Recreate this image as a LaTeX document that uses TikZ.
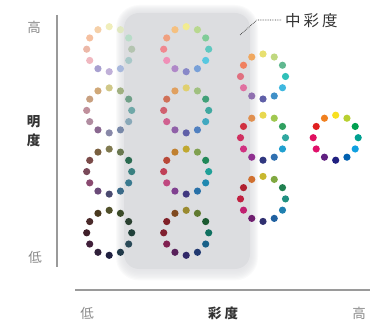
\documentclass[tikz,border=0pt]{standalone}
\usepackage{fontspec}
\newfontfamily\jp{Noto Sans CJK JP}
\usetikzlibrary{calc}
% colours: per wheel, starting at top and going clockwise
\newcommand\defwheel[2]{%
  \foreach \c [count=\n from 0] in {#2}{\expandafter\xdef\csname wc#1\n\endcsname{\c}}}
\newcommand\ringat[3]{% x, y, wheel id
  \foreach \i in {0,...,11}{%
    \pgfmathsetmacro\ang{90-30*\i}%
    \definecolor{dotc}{HTML}{\csname wc#3\i\endcsname}%
    \fill[dotc] ({#1+22.5*cos(\ang)},{#2-22.5*sin(\ang)}) circle[radius=3.6];
  }}
\defwheel{aa}{F0EEBB,E0E8C0,B8DCC8,B4C4B0,A8C8C8,A8B8DC,C0B0D8,A8A0D0,F0B8C0,ECB8A8,F5C0A0,F5D0A8}
\defwheel{ab}{D0C888,A0B080,70A088,70A8A8,88A8B8,7888A8,8888A8,8A6890,B08CA0,C0909C,C8A080,D0A878}
\defwheel{ac}{807A50,6A7850,2A6A50,3A8080,3A7A90,3A6A88,4A4A70,6A4A78,8A4A70,7A4A5A,7A4A48,7A6040}
\defwheel{ad}{50502A,3A4A28,2A4030,20403A,2A4A58,203848,202040,30203A,40203A,40202A,4A2A2A,4A3A20}
\defwheel{ba}{F2EC90,B8D890,80CC98,60C8C0,58C8E0,78A0D8,8888C8,B088C8,F090B8,F08890,F0A080,F5C080}
\defwheel{bb}{E0D070,A0C080,40A078,40A8A0,40A8C0,5080C0,6060A8,9060A8,D06090,D06070,D07058,E0A060}
\defwheel{bc}{C0A830,80A050,208858,20A098,2088B0,2870A8,403880,804090,C04880,C04058,B84838,C08030}
\defwheel{bd}{9A8A30,607A30,1A5A30,107060,186088,203870,302868,58205A,802050,802030,802028,804A20}
\defwheel{ca}{E8E070,C0D880,60B890,30C0B8,40B8E0,4090C8,6060A8,9070B0,E070A0,E07080,F08060,F0A860}
\defwheel{cb}{E8D850,A0C850,30A060,30A8A0,20A0D0,3070B0,303880,903090,D03080,D03060,D03040,E09050}
\defwheel{cc}{C8B830,80A840,208050,209080,2080B0,2060A0,303070,702070,C02070,C02040,B02030,D07030}
\defwheel{da}{F8E020,B8D030,00A050,00A090,10A0E0,0060B0,202080,602080,E0106A,E01060,E02020,F08020}
\definecolor{boxgray}{HTML}{DCDDE0}
\definecolor{axisgray}{HTML}{9A9A9A}
\definecolor{lightlabel}{HTML}{8A8A8A}
\definecolor{darklabel}{HTML}{333333}
\tikzset{
  axisline/.style={axisgray, line width=1.2pt},
  endlabel/.style={font=\jp\fontsize{13.5}{14}\selectfont, text=lightlabel, inner sep=0},
  axlabel/.style={font=\jp\bfseries\fontsize{13.5}{14}\selectfont, text=darklabel, inner sep=0},
  leader/.style={densely dotted, darklabel, line width=0.7pt}
}
\begin{document}
\begin{tikzpicture}[x=1pt,y=-1pt]
\useasboundingbox (0,0) rectangle (377,323);
% soft shaded band with a gentle drop shadow
\foreach \k in {8,7,6,5,4,3,2,1}{
  \fill[boxgray, opacity=0.15, rounded corners={15+\k}] (124-\k,13-\k) rectangle (250+\k,270+1.3*\k);
}
\fill[boxgray, rounded corners=15] (124,13) rectangle (250,269);
% wheels
\ringat{109.2}{49.2}{aa}
\ringat{109.2}{110.4}{ab}
\ringat{109.2}{171.6}{ac}
\ringat{109.2}{232.8}{ad}
\ringat{186.2}{49.2}{ba}
\ringat{186.2}{110.4}{bb}
\ringat{186.2}{171.6}{bc}
\ringat{186.2}{232.8}{bd}
\ringat{263}{76.5}{ca}
\ringat{263}{137.7}{cb}
\ringat{263}{198.9}{cc}
\ringat{335.7}{137.7}{da}
% axes
\coordinate (vtop) at (57,15);
\coordinate (vbot) at (57,267);
\coordinate (hleft) at (75,290);
\coordinate (hright) at (370,290);
\draw[axisline] (vtop) -- (vbot);
\draw[axisline] (hleft) -- (hright);
% labels
\node[endlabel] (vhigh) at (34,27) {高};
\node[axlabel] (vm1) at (33.5,122) {明};
\node[axlabel] (vm2) at (33.5,140) {度};
\node[endlabel] (vlow) at (35,257) {低};
\node[endlabel] (hlow) at (87,313) {低};
\node[axlabel] (hmid) at (223,313) {彩\hspace{3pt}度};
\node[endlabel] (hhigh) at (359,313) {高};
\node[font=\jp\fontsize{15.5}{16}\selectfont, text=darklabel, inner sep=0, anchor=west] (mid) at (285,21) {中\hspace{3pt}彩\hspace{3pt}度};
\coordinate (ldA) at (257,20);
\coordinate (ldB) at (240,35);
\draw[leader] (mid.west) ++(-4,-1) coordinate (ldS) -- (ldA) -- (ldB);
\end{tikzpicture}
\end{document}
